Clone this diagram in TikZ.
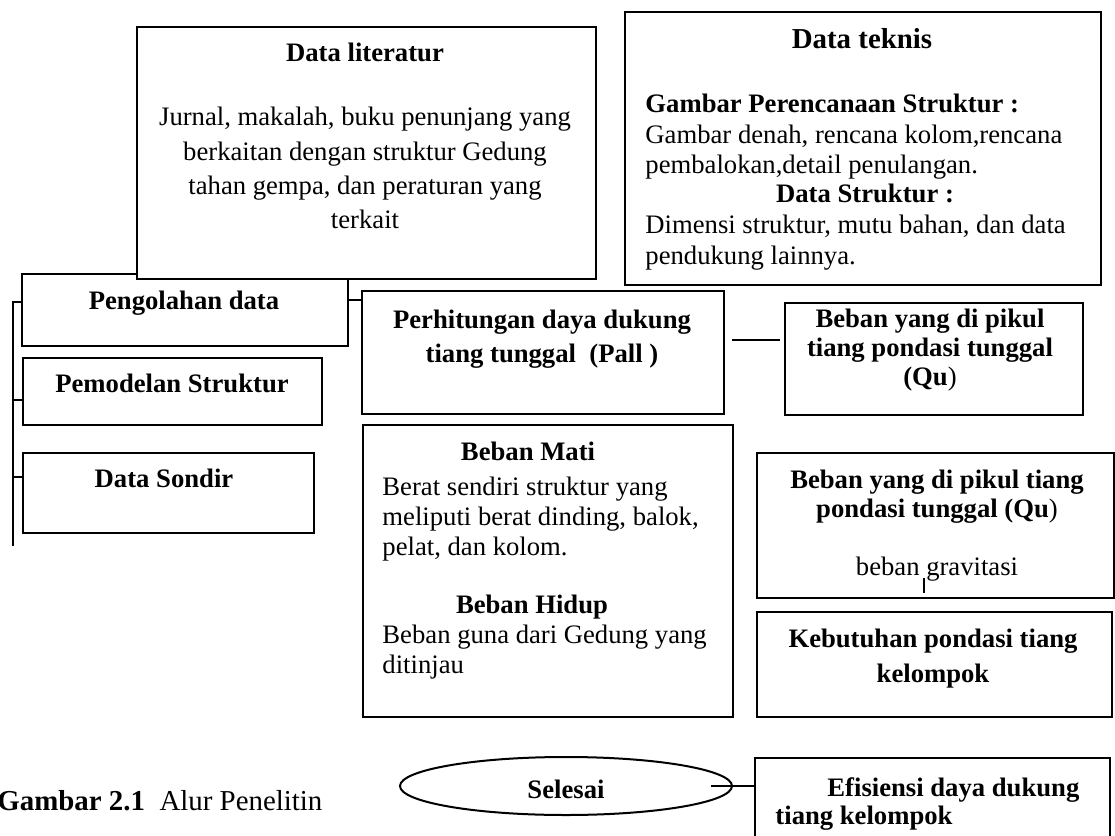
\documentclass[tikz,border=0pt]{standalone}
\usepackage{fontspec}
\setmainfont{Liberation Serif}
\usepackage{tikz}
\usetikzlibrary{shapes.geometric}
\newcommand{\pxl}{0.45pt}

\begin{document}
\begin{tikzpicture}[x=0.45pt, y=-0.45pt, font=\fontsize{12}{14}\selectfont,
	kotak/.style={draw, line width=0.9pt, fill=white, inner sep=0pt, anchor=north west},
	garis/.style={line width=0.5pt},
	teks/.style={inner sep=0pt},
	judul/.style={inner sep=0pt, font=\fontsize{12}{14}\selectfont\bfseries}]
	\useasboundingbox (0,0) rectangle (1115,836);
	\clip (0,0) rectangle (1115,836);

	%kotak kiri
	\node[kotak, minimum width=326*\pxl, minimum height=72*\pxl] (olah) at (21,273) {};
	\node[kotak, minimum width=459*\pxl, minimum height=252*\pxl] (lit) at (136,26) {};
	\node[kotak, minimum width=476*\pxl, minimum height=273*\pxl] (teknis) at (624,11) {};
	\node[kotak, minimum width=299*\pxl, minimum height=67*\pxl] (model) at (22,357) {};
	\node[kotak, minimum width=291*\pxl, minimum height=80*\pxl] (sondir) at (22,452) {};

	%kotak tengah dan kanan
	\node[kotak, minimum width=362*\pxl, minimum height=123*\pxl] (hitung) at (361,290) {};
	\node[kotak, minimum width=298*\pxl, minimum height=112*\pxl] (qu) at (784,302) {};
	\node[kotak, minimum width=370*\pxl, minimum height=292*\pxl] (mati) at (362,424) {};
	\node[kotak, minimum width=357*\pxl, minimum height=145*\pxl] (qudua) at (756,452) {};
	\node[kotak, minimum width=355*\pxl, minimum height=105*\pxl] (butuh) at (756,611) {};
	\node[kotak, minimum width=355*\pxl, minimum height=93*\pxl] (efis) at (754,757) {};
	\node[draw, ellipse, line width=0.9pt, minimum width=332*\pxl, minimum height=58*\pxl,
		inner sep=0pt, text height=11.5pt, font=\fontsize{12}{14}\selectfont\bfseries]
		(selesai) at (566,786) {Selesai};

	%garis
		\coordinate (atas) at (13,302);
		\coordinate (bawah) at (13,546);
		\draw[garis] (olah.west |- atas) -- (atas) -- (bawah);
		\draw[garis] (model.west |- 0,400) -- (atas |- 0,400);
		\draw[garis] (sondir.west |- 0,477) -- (atas |- 0,477);
		\draw[garis] (olah.east |- 0,300) -- (hitung.west |- 0,300);
		\coordinate (hq1) at (732,340);
		\coordinate (hq2) at (780,340);
		\draw[garis] (hq1) -- (hq2);
		\draw[garis] ([xshift=-22*\pxl]selesai.east) -- (efis.west |- selesai.east);
		\draw[garis] (924,578) -- (924,593);

	%teks
	\node[judul, anchor=base] (litjudul) at (365,62) {Data literatur};
	\node[teks, anchor=north, align=center, font=\fontsize{12}{15.4}\selectfont] (litisi) at (365,107)
		{Jurnal, makalah, buku penunjang yang\\ berkaitan dengan struktur Gedung\\ tahan gempa, dan peraturan yang\\ terkait};

	\node[judul, anchor=base, font=\fontsize{13}{15}\selectfont\bfseries] (teknisjudul) at (862,49) {Data teknis};
	\node[teks, anchor=north west, align=left, font=\fontsize{12}{13.6}\selectfont] (teknisgambar) at (645,94)
		{\textbf{Gambar Perencanaan Struktur :}\\ Gambar denah, rencana kolom,rencana\\ pembalokan,detail penulangan.};
	\node[judul, anchor=base] (teknisstruktur) at (865,203) {Data Struktur :};
	\node[teks, anchor=north west, align=left, font=\fontsize{12}{13.6}\selectfont] (teknisdimensi) at (645,215)
		{Dimensi struktur, mutu bahan, dan data\\ pendukung lainnya.};

	\node[judul, anchor=base] (olahteks) at (184,309) {Pengolahan data};
	\node[judul, anchor=base] (modelteks) at (172,392) {Pemodelan Struktur};
	\node[judul, anchor=base] (sondirteks) at (164,487) {Data Sondir};

	\node[judul, anchor=north, align=center, font=\fontsize{12}{15.3}\selectfont\bfseries] (hitungteks) at (542,310)
		{Perhitungan daya dukung\\ tiang tunggal\ \ (Pall\ )};
	\node[judul, anchor=north, align=center, font=\fontsize{12}{13}\selectfont\bfseries] (quteks) at (930,309)
		{Beban yang di pikul\\ tiang pondasi tunggal\\ (Qu\textmd{)}};

	\node[judul, anchor=base] (matijudul) at (528,460) {Beban Mati};
	\node[teks, anchor=north west, align=left, font=\fontsize{12}{13.5}\selectfont] (matiisi) at (382,477)
		{Berat sendiri struktur yang\\ meliputi berat dinding, balok,\\ pelat, dan kolom.};
	\node[judul, anchor=base] (hidupjudul) at (532,613) {Beban Hidup};
	\node[teks, anchor=north west, align=left, font=\fontsize{12}{13.3}\selectfont] (hidupisi) at (382,625)
		{Beban guna dari Gedung yang\\ ditinjau};

	\node[judul, anchor=north, align=center, font=\fontsize{12}{13}\selectfont\bfseries] (quduateks) at (937,470)
		{Beban yang di pikul tiang\\ pondasi tunggal (Qu\textmd{)}};
	\node[teks, anchor=base] (gravitasi) at (937,575) {beban gravitasi};

	\node[judul, anchor=north, align=center, font=\fontsize{12}{15.75}\selectfont\bfseries] (butuhteks) at (933,629)
		{Kebutuhan pondasi tiang\\ kelompok};
	\node[judul, anchor=north west, align=left, font=\fontsize{12}{12.6}\selectfont\bfseries] (efisteks) at (775,777)
		{\hspace*{23.4pt}Efisiensi daya dukung\\ tiang kelompok};

	\node[teks, anchor=base west, font=\fontsize{13}{15}\selectfont] (keterangan) at (-3,810)
		{\textbf{Gambar 2.1}\ \ Alur Penelitin};
\end{tikzpicture}
\end{document}
